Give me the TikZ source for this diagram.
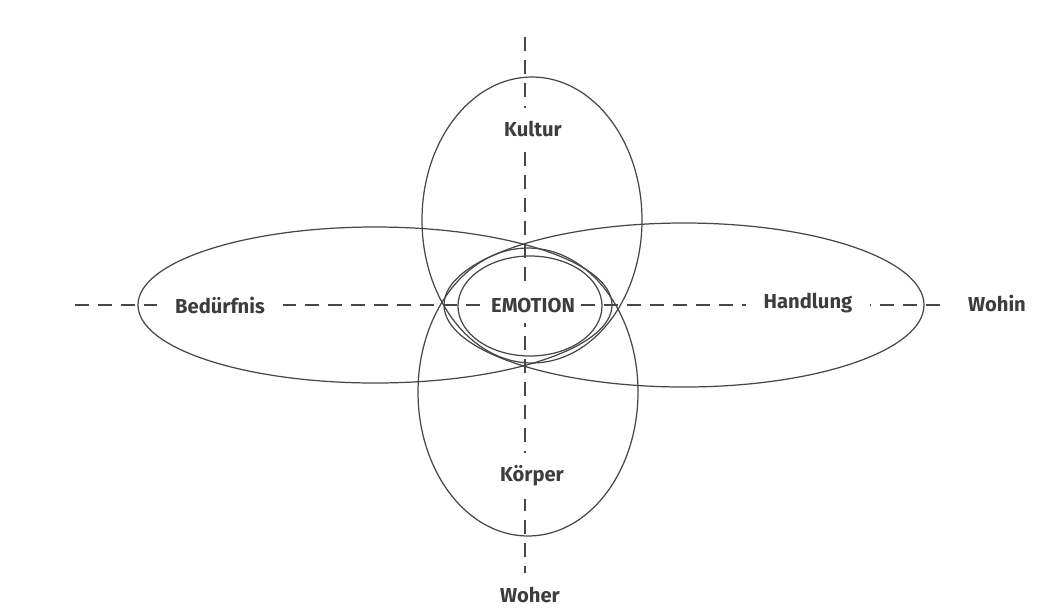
\documentclass[tikz,border=0pt]{standalone}
\usepackage{fontspec}
\setmainfont{Fira Sans}
\usepackage{tikz}
\definecolor{cline}{rgb}{0.28,0.28,0.28}
\definecolor{ctext}{rgb}{0.24,0.24,0.24}
\begin{document}
\begin{tikzpicture}[x=0.02cm, y=-0.02cm,
    axis/.style={cline, line width=0.7pt, dash pattern=on 0.28cm off 0.18cm},
    oval/.style={cline, line width=0.7pt},
    lbl/.style={fill=white, text=ctext, font=\fontsize{11.5}{13}\selectfont\bfseries,
                inner xsep=0.36cm, inner ysep=0.26cm}]
        \useasboundingbox (0,0) rectangle (1048,613);

        \coordinate (west)  at (75,305);
        \coordinate (east)  at (948,305);
        \coordinate (north) at (525,37);
        \coordinate (south) at (525,573);
        \draw[axis] (west) -- (east);
        \draw[axis] (north) -- (south);

        \draw[oval] (532,220) ellipse [x radius=110, y radius=143];
        \draw[oval] (528,392) ellipse [x radius=110, y radius=144];
        \draw[oval] (375,305) ellipse [x radius=237, y radius=78];
        \draw[oval] (684,305) ellipse [x radius=240, y radius=82];
        \draw[oval] (530,306) ellipse [x radius=72, y radius=50];

        \node[lbl] (kultur)   at (533,129){Kultur};
        \node[lbl] (beduerf)  at (220,305){Bedürfnis};
        \node[lbl, inner xsep=2pt, inner ysep=0.22cm] (emotion) at (533,305){EMOTION};
        \node[lbl] (handlung) at (808,303){Handlung};
        \node[lbl, fill=none] (wohin) at (997,303){Wohin};
        \node[lbl] (koerper)  at (532,476){Körper};
        \node[lbl, fill=none] (woher) at (530,595){Woher};
      \end{tikzpicture}
\end{document}
